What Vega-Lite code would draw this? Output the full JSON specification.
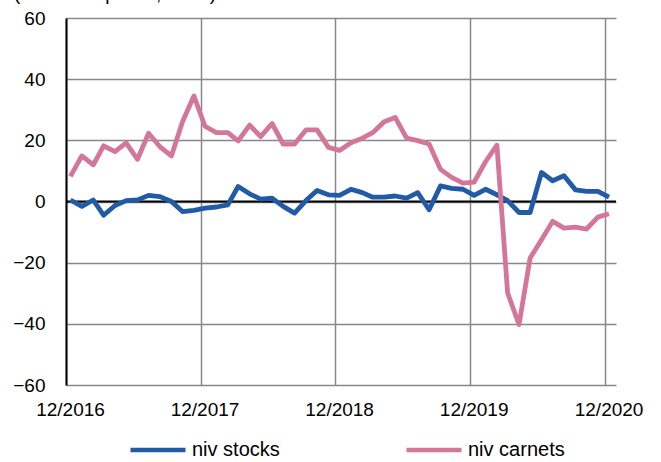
{
  "$schema": "https://vega.github.io/schema/vega-lite/v6.json",
  "width": 550,
  "height": 367,
  "autosize": {"type": "none"},
  "padding": {"left": 66, "top": 18, "right": 45, "bottom": 77},
  "background": "white",
  "config": {"font": "Liberation Sans", "view": {"stroke": null}},
  "title": {"text": "(soldes d'opinion, en %)", "anchor": "start", "frame": "group", "fontSize": 19, "fontWeight": "normal", "color": "black", "offset": 5, "dx": -52},
  "data": {"values": [
    {"date": "2016-12-13", "niv stocks": 0.5, "niv carnets": 8.2},
    {"date": "2017-01-13", "niv stocks": -1.6, "niv carnets": 14.9},
    {"date": "2017-02-13", "niv stocks": 0.5, "niv carnets": 12.0},
    {"date": "2017-03-13", "niv stocks": -4.5, "niv carnets": 18.2},
    {"date": "2017-04-13", "niv stocks": -1.3, "niv carnets": 16.3},
    {"date": "2017-05-13", "niv stocks": 0.3, "niv carnets": 19.2},
    {"date": "2017-06-13", "niv stocks": 0.5, "niv carnets": 13.8},
    {"date": "2017-07-13", "niv stocks": 2.0, "niv carnets": 22.3},
    {"date": "2017-08-13", "niv stocks": 1.6, "niv carnets": 17.9},
    {"date": "2017-09-13", "niv stocks": 0.0, "niv carnets": 14.9},
    {"date": "2017-10-13", "niv stocks": -3.3, "niv carnets": 26.1},
    {"date": "2017-11-13", "niv stocks": -2.9, "niv carnets": 34.5},
    {"date": "2017-12-13", "niv stocks": -2.2, "niv carnets": 24.6},
    {"date": "2018-01-13", "niv stocks": -1.8, "niv carnets": 22.5},
    {"date": "2018-02-13", "niv stocks": -1.1, "niv carnets": 22.5},
    {"date": "2018-03-13", "niv stocks": 4.9, "niv carnets": 19.8},
    {"date": "2018-04-13", "niv stocks": 2.5, "niv carnets": 25.0},
    {"date": "2018-05-13", "niv stocks": 0.8, "niv carnets": 21.2},
    {"date": "2018-06-13", "niv stocks": 1.1, "niv carnets": 25.5},
    {"date": "2018-07-13", "niv stocks": -1.6, "niv carnets": 18.8},
    {"date": "2018-08-13", "niv stocks": -3.8, "niv carnets": 18.8},
    {"date": "2018-09-13", "niv stocks": 0.3, "niv carnets": 23.4},
    {"date": "2018-10-13", "niv stocks": 3.6, "niv carnets": 23.4},
    {"date": "2018-11-13", "niv stocks": 2.2, "niv carnets": 17.7},
    {"date": "2018-12-13", "niv stocks": 2.0, "niv carnets": 16.7},
    {"date": "2019-01-13", "niv stocks": 4.0, "niv carnets": 19.2},
    {"date": "2019-02-13", "niv stocks": 2.9, "niv carnets": 20.7},
    {"date": "2019-03-13", "niv stocks": 1.4, "niv carnets": 22.5},
    {"date": "2019-04-13", "niv stocks": 1.4, "niv carnets": 26.1},
    {"date": "2019-05-13", "niv stocks": 1.8, "niv carnets": 27.5},
    {"date": "2019-06-13", "niv stocks": 1.1, "niv carnets": 20.7},
    {"date": "2019-07-13", "niv stocks": 2.9, "niv carnets": 19.9},
    {"date": "2019-08-13", "niv stocks": -2.7, "niv carnets": 18.8},
    {"date": "2019-09-13", "niv stocks": 5.1, "niv carnets": 10.5},
    {"date": "2019-10-13", "niv stocks": 4.3, "niv carnets": 7.9},
    {"date": "2019-11-13", "niv stocks": 4.0, "niv carnets": 6.0},
    {"date": "2019-12-13", "niv stocks": 2.0, "niv carnets": 6.3},
    {"date": "2020-01-13", "niv stocks": 4.0, "niv carnets": 13.0},
    {"date": "2020-02-13", "niv stocks": 2.2, "niv carnets": 18.4},
    {"date": "2020-03-13", "niv stocks": 0.3, "niv carnets": -29.9},
    {"date": "2020-04-13", "niv stocks": -3.6, "niv carnets": -40.2},
    {"date": "2020-05-13", "niv stocks": -3.6, "niv carnets": -18.5},
    {"date": "2020-06-13", "niv stocks": 9.5, "niv carnets": -12.5},
    {"date": "2020-07-13", "niv stocks": 6.8, "niv carnets": -6.5},
    {"date": "2020-08-13", "niv stocks": 8.4, "niv carnets": -8.7},
    {"date": "2020-09-13", "niv stocks": 3.8, "niv carnets": -8.4},
    {"date": "2020-10-13", "niv stocks": 3.3, "niv carnets": -9.0},
    {"date": "2020-11-13", "niv stocks": 3.3, "niv carnets": -5.1},
    {"date": "2020-12-13", "niv stocks": 1.4, "niv carnets": -4.0}
  ]},
  "layer": [
    {
      "data": {"values": [{"zero": 0}]},
      "mark": {"type": "rule", "color": "black", "strokeWidth": 2},
      "encoding": {"y": {"field": "zero", "type": "quantitative"}}
    },
    {
      "transform": [{"fold": ["niv stocks", "niv carnets"], "as": ["serie", "valeur"]}],
      "mark": {"type": "line", "strokeWidth": 4.8, "strokeJoin": "round"},
      "encoding": {
        "x": {
          "field": "date", "type": "temporal",
          "scale": {"type": "utc", "domain": [{"year": 2016, "month": 12, "date": 1, "utc": true}, {"year": 2021, "month": 1, "date": 1, "utc": true}]},
          "axis": {
            "values": [
              {"year": 2016, "month": 12, "date": 1, "utc": true},
              {"year": 2017, "month": 12, "date": 1, "utc": true},
              {"year": 2018, "month": 12, "date": 1, "utc": true},
              {"year": 2019, "month": 12, "date": 1, "utc": true},
              {"year": 2020, "month": 12, "date": 1, "utc": true}
            ],
            "format": "%m/%Y", "labelFontSize": 19, "labelColor": "black", "labelOffset": 4, "labelPadding": 15,
            "ticks": false, "tickSize": 0, "domain": false, "grid": true, "gridColor": "#888888", "gridWidth": 1.5,
            "title": null, "labelFlush": false, "labelOverlap": false
          }
        },
        "y": {
          "field": "valeur", "type": "quantitative",
          "scale": {"domain": [-60, 60], "nice": false, "zero": false},
          "axis": {
            "values": [-60, -40, -20, 0, 20, 40, 60],
            "labelFontSize": 19, "labelColor": "black", "labelPadding": 21, "ticks": false, "tickSize": 0,
            "domainColor": "black", "domainWidth": 2, "grid": true, "gridColor": "#888888", "gridWidth": 1.5,
            "title": null
          }
        },
        "color": {
          "field": "serie", "type": "nominal",
          "scale": {"domain": ["niv stocks", "niv carnets"], "range": ["#215AA6", "#D47698"]},
          "legend": {
            "orient": "none", "legendX": 62, "legendY": 402, "direction": "horizontal", "columns": 2,
            "title": null, "symbolType": "stroke", "symbolSize": 3025, "symbolStrokeWidth": 4.5,
            "labelFontSize": 20, "labelColor": "black", "labelOffset": 4, "columnPadding": 117
          }
        }
      }
    }
  ]
}
